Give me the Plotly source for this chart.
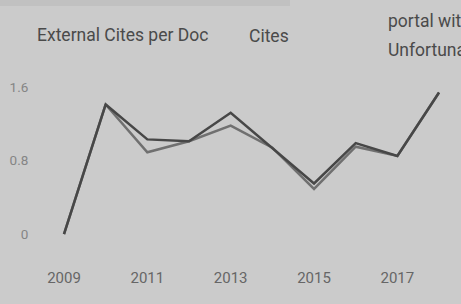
import plotly.graph_objects as go

years = [2009, 2010, 2011, 2012, 2013, 2014, 2015, 2016, 2017, 2018]
ext_cites_per_doc = [0, 1.41, 0.89, 1.01, 1.18, 0.94, 0.49, 0.95, 0.85, 1.54]
cites = [0, 1.41, 1.03, 1.01, 1.32, 0.94, 0.55, 0.99, 0.85, 1.54]
y_ticks = [0, 0.8, 1.6]
y_tick_labels = ["0", "0.8", "1.6"]
x_ticks = [2009, 2011, 2013, 2015, 2017]
legend_names = ["External Cites per Doc", "Cites"]
side_text = ["portal wit", "Unfortuna"]

bg = "#cbcbcb"
W, H = 461, 304
T, B, L, R = 60, 54, 35, 0
pw = W - L - R
ph = H - T - B


def px_x(px):
    return (px - L) / pw


def px_y(px):
    return 1 + (T - px) / ph


fig = go.Figure()
fig.add_trace(go.Scatter(x=years, y=ext_cites_per_doc, mode="lines", name=legend_names[0],
                         line=dict(color="#707070", width=2.5)))
fig.add_trace(go.Scatter(x=years, y=cites, mode="lines", name=legend_names[1],
                         line=dict(color="#474747", width=2.5)))

fig.update_layout(
    width=W, height=H,
    margin=dict(l=L, r=R, t=T, b=B),
    paper_bgcolor=bg, plot_bgcolor=bg,
    showlegend=False,
    font=dict(family="Roboto", color="#5a5a5a"),
    xaxis=dict(range=[2008.304, 2018.527], tickvals=x_ticks, showgrid=False, zeroline=False,
               showline=False, ticks="outside", ticklen=14, tickcolor="rgba(0,0,0,0)",
               tickfont=dict(size=15, color="#666666")),
    yaxis=dict(range=[-0.174, 1.894], tickvals=y_ticks, ticktext=y_tick_labels, showgrid=False,
               zeroline=False, showline=False, ticks="outside", ticklen=3,
               tickcolor="rgba(0,0,0,0)", tickfont=dict(size=13.5, color="#858585")),
)

fig.add_shape(type="rect", xref="paper", yref="paper", x0=px_x(-5), x1=px_x(290),
              y0=px_y(6), y1=px_y(-2), fillcolor="#c1c1c1", line=dict(width=0), layer="below")

fig.add_annotation(text=legend_names[0], xref="paper", yref="paper", x=px_x(35),
                   y=px_y(35), xanchor="left", yanchor="middle", showarrow=False,
                   font=dict(size=17.5, color="#4a4a4a"))
fig.add_annotation(text=legend_names[1], xref="paper", yref="paper", x=px_x(247),
                   y=px_y(36), xanchor="left", yanchor="middle", showarrow=False,
                   font=dict(size=17.5, color="#4a4a4a"))
fig.add_annotation(text=side_text[0], xref="paper", yref="paper", x=px_x(386),
                   y=px_y(21), xanchor="left", yanchor="middle", showarrow=False,
                   font=dict(size=17.5, color="#4a4a4a"))
fig.add_annotation(text=side_text[1], xref="paper", yref="paper", x=px_x(386),
                   y=px_y(50), xanchor="left", yanchor="middle", showarrow=False,
                   font=dict(size=17.5, color="#4a4a4a"))

fig.write_html("out.html", config={"displayModeBar": False},
               post_script="document.body.style.margin='0';document.body.style.overflow='hidden';")
